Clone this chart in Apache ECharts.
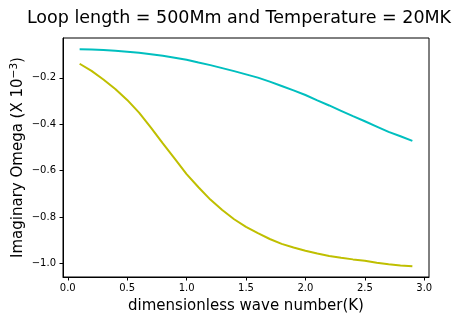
<!DOCTYPE html>
<html>
<head>
<meta charset="utf-8">
<script src="https://cdn.jsdelivr.net/npm/echarts@6/dist/echarts.min.js"></script>
<style>
  html, body { margin: 0; padding: 0; background: #fff; }
  #chart { width: 462px; height: 322px; }
</style>
</head>
<body>
<div id="chart"></div>
<script>
// dimensionless wave number K
var kValues = [0.1, 0.2, 0.3, 0.4, 0.5, 0.6, 0.7, 0.8, 0.9, 1.0, 1.1, 1.2, 1.3, 1.4, 1.5,
  1.6, 1.7, 1.8, 1.9, 2.0, 2.1, 2.2, 2.3, 2.4, 2.5, 2.6, 2.7, 2.8, 2.9]
// imaginary omega (x 1e-3)
var cyanOmega = [-0.077, -0.078, -0.080, -0.083, -0.087, -0.092, -0.098, -0.105, -0.113, -0.122,
  -0.134, -0.145, -0.158, -0.171, -0.185, -0.199, -0.216, -0.235, -0.254, -0.274,
  -0.297, -0.319, -0.342, -0.365, -0.387, -0.410, -0.433, -0.452, -0.472]
var yellowOmega = [-0.139, -0.170, -0.207, -0.248, -0.295, -0.350, -0.415, -0.483, -0.548, -0.615,
  -0.672, -0.725, -0.770, -0.810, -0.843, -0.870, -0.895, -0.916, -0.932, -0.946,
  -0.958, -0.968, -0.976, -0.983, -0.989, -0.998, -1.004, -1.009, -1.013]
var xTicks = [0.0, 0.5, 1.0, 1.5, 2.0, 2.5, 3.0]
var yTicks = [-1.0, -0.8, -0.6, -0.4, -0.2]

function pairs (ys) {
  return kValues.map(function (k, i) { return [k, ys[i]] })
}
function fmt (v) {
  return v.toFixed(1).replace('-', '\u2212')
}

var font = 'DejaVu Sans'
var chart = echarts.init(document.getElementById('chart'), null, { renderer: 'canvas' })
chart.setOption({
  animation: false,
  backgroundColor: '#fff',
  textStyle: { fontFamily: font },
  title: {
    text: 'Loop length = 500Mm and Temperature = 20MK',
    left: 234,
    textAlign: 'center',
    top: 4,
    textStyle: { fontFamily: font, fontSize: 17.5, fontWeight: 'normal', color: '#000' }
  },
  grid: {
    left: 63, right: 33, top: 38, bottom: 45,
    outerBoundsMode: 'none',
    containLabel: false,
    show: true, borderColor: '#000', borderWidth: 1, backgroundColor: 'transparent'
  },
  xAxis: {
    type: 'value',
    min: -0.04,
    max: 3.04,
    name: 'dimensionless wave number(K)',
    nameLocation: 'middle',
    nameGap: 22,
    nameMoveOverlap: false,
    nameTextStyle: { fontFamily: font, fontSize: 15, color: '#000' },
    axisLine: { show: true, onZero: false, lineStyle: { color: '#000', width: 1 } },
    axisTick: { show: true, inside: false, length: 3.5, customValues: xTicks, lineStyle: { color: '#000' } },
    axisLabel: { customValues: xTicks, formatter: fmt, fontFamily: font, fontSize: 10, color: '#000', margin: 6 },
    splitLine: { show: false }
  },
  yAxis: {
    type: 'value',
    min: -1.059,
    max: -0.028,
    name: '{a|Imaginary Omega (X 10}{s|\u22123}{a|)}',
    nameLocation: 'middle',
    nameGap: 36,
    nameMoveOverlap: false,
    nameRotate: 90,
    nameTextStyle: {
      rich: {
        a: { fontFamily: font, fontSize: 15, color: '#000' },
        s: { fontFamily: font, fontSize: 10.5, color: '#000', verticalAlign: 'top', padding: [0, 0, 7, 0] }
      }
    },
    axisLine: { show: true, onZero: false, lineStyle: { color: '#000', width: 1 } },
    axisTick: { show: true, inside: false, length: 3.5, customValues: yTicks, lineStyle: { color: '#000' } },
    axisLabel: { customValues: yTicks, formatter: fmt, fontFamily: font, fontSize: 10, color: '#000', margin: 7 },
    splitLine: { show: false }
  },
  series: [{
    name: 'cyan',
    type: 'line',
    showSymbol: false,
    smooth: false,
    lineStyle: { color: '#00BFBF', width: 2 },
    data: pairs(cyanOmega)
  }, {
    name: 'yellow',
    type: 'line',
    showSymbol: false,
    smooth: false,
    lineStyle: { color: '#BFBF00', width: 2 },
    data: pairs(yellowOmega)
  }]
})
</script>
</body>
</html>
